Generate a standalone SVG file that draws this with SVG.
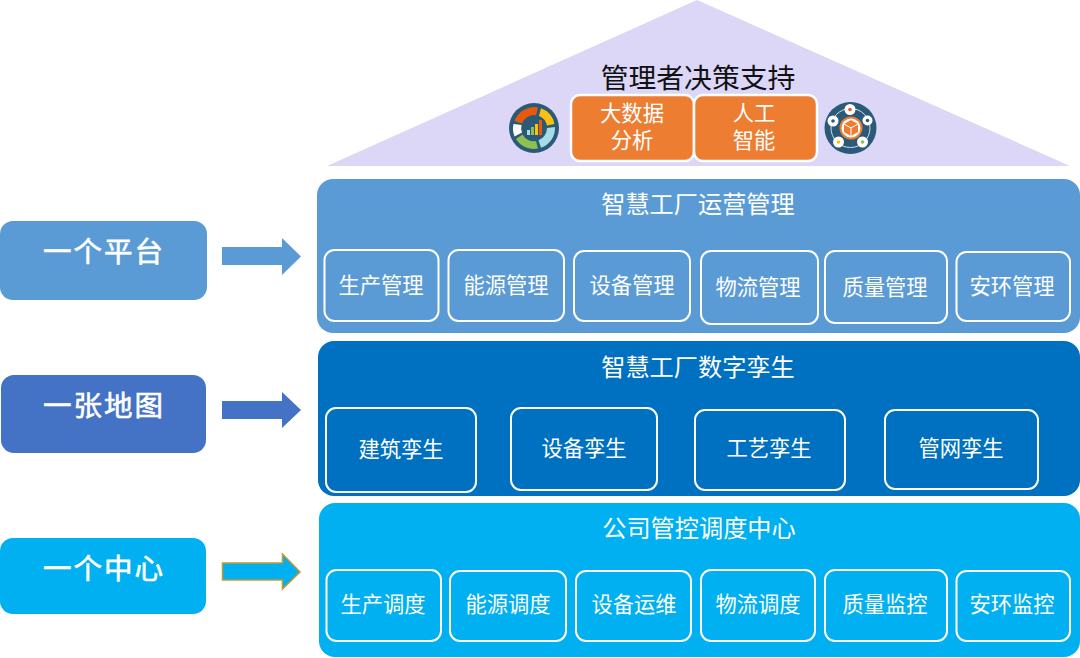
<svg xmlns="http://www.w3.org/2000/svg" width="1080" height="658" viewBox="0 0 1080 658">
<style>
text{font-family:"Noto Sans CJK SC","Noto Sans",sans-serif;text-anchor:middle}
.t{fill:#fff;font-size:24.200px}
.c{fill:#fff;font-size:21.300px}
.s{fill:#fff;stroke:#fff;stroke-width:.6px;font-size:28.500px;font-weight:400;letter-spacing:2px}
.b{fill:none;stroke:#fff;stroke-width:2}
.o{fill:#ed7d31;stroke:#fff;stroke-width:2.500}
</style>
<rect width="1080" height="658" fill="#fff"/>
<g id="roof">
<polygon points="697,0 1070,166 327,166" fill="#dcd6f7"/>
<text x="698" y="88" font-size="27.800" fill="#111">管理者决策支持</text>
</g>
<g id="node-bigdata"><rect class="o" x="571" y="95" width="123" height="66" rx="9"/>
<text class="c"><tspan x="632" y="120.500">大数据</tspan><tspan x="632" y="147.500">分析</tspan></text></g>
<g id="node-ai"><rect class="o" x="694" y="95" width="123" height="66" rx="9"/>
<text class="c"><tspan x="754" y="120.500">人工</tspan><tspan x="754" y="147.500">智能</tspan></text></g>
<g id="icon-chart">
<circle cx="534" cy="128" r="25" fill="#2a5a78"/>
<path d="M514.500 121A21 21 0 0 1 538 107.400L536 115.200A13 13 0 0 0 522 123.500Z" fill="#e8590c"/>
<path d="M541 108.200A21 21 0 0 1 554.500 124L547 125.500A13 13 0 0 0 539 116Z" fill="#fdc00f"/>
<path d="M555 127A21 21 0 0 1 541 147.800L538.500 140.200A13 13 0 0 0 547 128Z" fill="#a5dce8"/>
<path d="M538 148.600A21 21 0 0 1 516 139L522.500 134.500A13 13 0 0 0 536 141Z" fill="#8cc152"/>
<path d="M514.500 136.500A21 21 0 0 1 513.500 124L521.500 125A13 13 0 0 0 522 132.500Z" fill="#fff"/>
<rect x="527" y="130" width="3" height="5" fill="#a5dce8"/><rect x="531" y="127" width="3" height="8" fill="#8cc152"/><rect x="535" y="124" width="3" height="11" fill="#fdc00f"/><rect x="539" y="120" width="3" height="15" fill="#e8590c"/>
</g>
<g id="icon-cube">
<circle cx="850.500" cy="128" r="26" fill="#2a5a78"/>
<circle cx="850.500" cy="128" r="19.500" fill="none" stroke="#cfe0e8" stroke-width="1"/>
<circle cx="851" cy="128" r="11.500" fill="#ed7d31"/>
<circle cx="851" cy="128" r="9.500" fill="#fff"/>
<polygon points="851,120 858,124 858,132 851,136 844,132 844,124" fill="#ed7d31"/>
<path d="M844 124L851 128 858 124M851 128V136" fill="none" stroke="#fff" stroke-width="1"/>
<g fill="#fff"><circle cx="850" cy="109.500" r="5.500"/><circle cx="867.500" cy="120.500" r="5"/><circle cx="862.500" cy="142" r="5.500"/><circle cx="838.500" cy="142" r="5.500"/><circle cx="833" cy="121" r="5.500"/></g>
<circle cx="850" cy="109.500" r="1.800" fill="#e8590c"/><circle cx="867.500" cy="120.500" r="1.800" fill="#2a5a78"/><circle cx="862.500" cy="142" r="1.800" fill="#8cc152"/><circle cx="838.500" cy="142" r="1.800" fill="#fdc00f"/><circle cx="833" cy="121" r="1.800" fill="#2a5a78"/>
</g>

<g id="node-platform"><rect x="0" y="221" width="207" height="79" rx="13" fill="#5b9bd5"/><text class="s" x="104" y="262">一个平台</text></g>
<g id="node-map"><rect x="1" y="375" width="205" height="78" rx="13" fill="#4472c4"/><text class="s" x="104" y="416">一张地图</text></g>
<g id="node-center"><rect x="0" y="538" width="206" height="76" rx="13" fill="#00b0f0"/><text class="s" x="104" y="579">一个中心</text></g>

<g id="connectors">
<polygon points="222,247 282,247 282,238 301,256.500 282,275 282,265 222,265" fill="#5b9bd5"/>
<polygon points="222,401 282,401 282,392 301,410 282,428 282,419 222,419" fill="#4472c4"/>
<polygon points="222.500,563 282.500,563 282.500,554 300,572 282.500,589 282.500,580 222.500,580" fill="#00b0f0" stroke="#c19a2b" stroke-width="1.500"/>
</g>

<g id="layer-ops"><rect x="317" y="179" width="763" height="154" rx="16" fill="#5b9bd5"/>
<text class="t" x="698" y="213">智慧工厂运营管理</text></g>
<g id="n1"><rect class="b" x="324.500" y="250" width="114" height="71" rx="10"/><text class="c" x="381" y="293">生产管理</text></g>
<g id="n2"><rect class="b" x="448.500" y="250" width="115.500" height="71" rx="10"/><text class="c" x="506" y="293">能源管理</text></g>
<g id="n3"><rect class="b" x="574" y="251" width="116" height="70" rx="10"/><text class="c" x="632" y="293">设备管理</text></g>
<g id="n4"><rect class="b" x="701" y="251" width="117" height="73" rx="10"/><text class="c" x="758" y="295">物流管理</text></g>
<g id="n5"><rect class="b" x="825" y="251" width="122" height="72" rx="10"/><text class="c" x="885" y="295">质量管理</text></g>
<g id="n6"><rect class="b" x="956.500" y="252" width="113.500" height="69" rx="10"/><text class="c" x="1012" y="294">安环管理</text></g>

<g id="layer-twin"><rect x="318" y="341" width="762" height="155" rx="16" fill="#0070c0"/>
<text class="t" x="698" y="376">智慧工厂数字孪生</text></g>
<g id="n7"><rect class="b" x="326" y="408" width="150" height="84" rx="10"/><text class="c" x="401" y="457">建筑孪生</text></g>
<g id="n8"><rect class="b" x="511" y="408" width="146" height="82" rx="10"/><text class="c" x="584" y="456">设备孪生</text></g>
<g id="n9"><rect class="b" x="695" y="410" width="150" height="80" rx="10"/><text class="c" x="769" y="456">工艺孪生</text></g>
<g id="n10"><rect class="b" x="885" y="410" width="153" height="79" rx="10"/><text class="c" x="961" y="456">管网孪生</text></g>

<g id="layer-center"><rect x="319" y="503" width="761" height="154" rx="16" fill="#00b0f0"/>
<text class="t" x="699" y="537">公司管控调度中心</text></g>
<g id="n11"><rect class="b" x="326.500" y="570" width="114.500" height="71" rx="10"/><text class="c" x="383" y="612">生产调度</text></g>
<g id="n12"><rect class="b" x="450" y="571" width="116" height="70" rx="10"/><text class="c" x="508" y="612">能源调度</text></g>
<g id="n13"><rect class="b" x="576" y="571" width="115" height="70" rx="10"/><text class="c" x="634" y="612">设备运维</text></g>
<g id="n14"><rect class="b" x="701" y="570" width="114" height="71" rx="10"/><text class="c" x="758" y="612">物流调度</text></g>
<g id="n15"><rect class="b" x="825" y="570" width="122" height="71" rx="10"/><text class="c" x="885" y="612">质量监控</text></g>
<g id="n16"><rect class="b" x="956.500" y="571" width="113.500" height="70" rx="10"/><text class="c" x="1012" y="612">安环监控</text></g>
</svg>
